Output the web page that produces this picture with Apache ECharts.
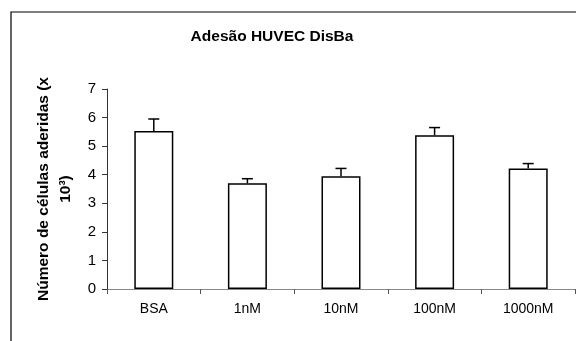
<!DOCTYPE html>
<html>
<head>
<meta charset="utf-8">
<script src="https://cdn.jsdelivr.net/npm/echarts@6/dist/echarts.min.js"></script>
<style>html,body{margin:0;padding:0;background:#fff;}#c{width:576px;height:341px;}</style>
</head>
<body>
<div id="c"></div>
<script>
const categories = ['BSA', '1nM', '10nM', '100nM', '1000nM'];
const means = [5.53, 3.70, 3.95, 5.38, 4.22];
const errors = [0.42, 0.16, 0.27, 0.27, 0.17];
const yTicks = [0, 1, 2, 3, 4, 5, 6, 7];

const chart = echarts.init(document.getElementById('c'), null, {renderer: 'canvas'});
const font = 'Liberation Sans, Arial, sans-serif';
chart.setOption({
  animation: false,
  backgroundColor: '#fff',
  title: {
    text: 'Adesão HUVEC DisBa',
    left: 267, top: 24, textAlign: 'center',
    textStyle: {fontFamily: font, fontSize: 15.5, fontWeight: 'bold', color: '#000'}
  },
  graphic: [{
    type: 'rect', shape: {x: 11, y: 12, width: 620, height: 400},
    style: {fill: 'none', stroke: '#000', lineWidth: 1.2}, silent: true
  }],
  grid: {left: 107, top: 89, right: 1, bottom: 52},
  xAxis: {
    type: 'category', data: categories,
    axisLine: {lineStyle: {color: '#888', width: 1}},
    axisTick: {show: true, inside: false, length: 5, alignWithLabel: false, lineStyle: {color: '#555'}},
    axisLabel: {fontFamily: font, fontSize: 14, color: '#000', margin: 13}
  },
  yAxis: {
    type: 'value', min: yTicks[0], max: yTicks[yTicks.length - 1], interval: 1,
    name: 'Número de células aderidas (x\n10³)',
    nameLocation: 'middle', nameRotate: 90, nameGap: 30,
    nameTextStyle: {fontFamily: font, fontSize: 15.5, fontWeight: 'bold', color: '#000', lineHeight: 22, align: 'center'},
    splitLine: {show: false},
    axisLine: {show: true, lineStyle: {color: '#333', width: 1}},
    axisTick: {show: true, inside: false, length: 5, lineStyle: {color: '#333'}},
    axisLabel: {fontFamily: font, fontSize: 15, color: '#000', margin: 11}
  },
  series: [{
    type: 'bar', data: means, barWidth: 39,
    itemStyle: {color: '#fff', borderColor: '#000', borderWidth: 1.5},
    z: 2
  }, {
    type: 'custom', z: 3,
    data: means.map((m, i) => [i, m, m + errors[i]]),
    renderItem: function (params, api) {
      const p0 = api.coord([api.value(0), api.value(1)]);
      const p1 = api.coord([api.value(0), api.value(2)]);
      const hw = 5.5;
      return {
        type: 'group',
        children: [
          {type: 'line', shape: {x1: p0[0], y1: p0[1], x2: p1[0], y2: p1[1]}, style: {stroke: '#000', lineWidth: 1.5}},
          {type: 'line', shape: {x1: p1[0] - hw, y1: p1[1], x2: p1[0] + hw, y2: p1[1]}, style: {stroke: '#000', lineWidth: 1.5}}
        ]
      };
    }
  }]
});
</script>
</body>
</html>
